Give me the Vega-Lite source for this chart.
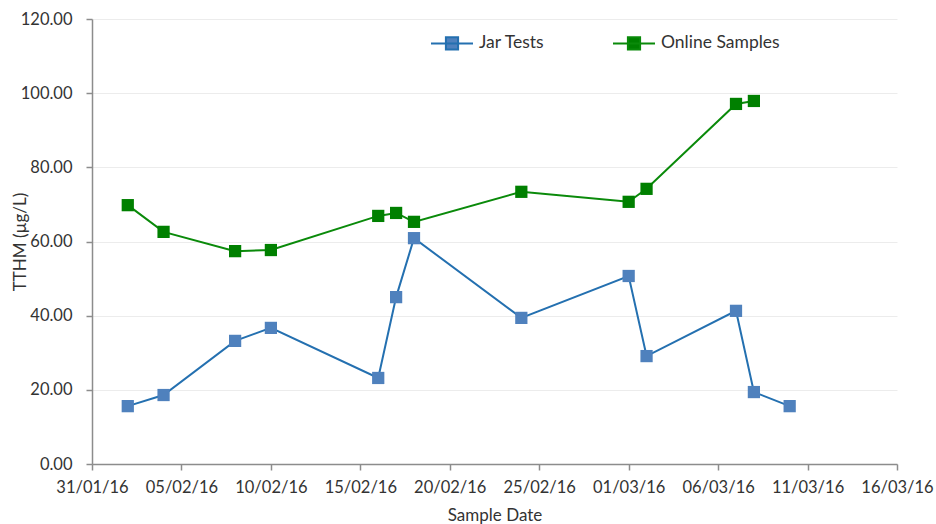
{
  "$schema": "https://vega.github.io/schema/vega-lite/v6.json",
  "width": 805,
  "height": 445,
  "autosize": {"type": "none"},
  "padding": {"left": 92, "top": 19, "right": 39, "bottom": 60},
  "background": "white",
  "config": {
    "font": "Lato",
    "view": {"stroke": null},
    "axis": {
      "labelFont": "Lato", "labelFontSize": 16.5, "labelColor": "#333333",
      "titleFont": "Lato", "titleFontSize": 17, "titleFontWeight": "normal", "titleColor": "#333333",
      "domainColor": "#8c8c8c", "tickColor": "#8c8c8c", "domainWidth": 1.5, "tickWidth": 1.5, "tickSize": 6
    },
    "legend": {"labelFont": "Lato", "labelFontSize": 17.5, "labelColor": "#333333"}
  },
  "data": {
    "values": [
      {"date": "2016-02-02", "series": "Jar Tests", "value": 15.6},
      {"date": "2016-02-04", "series": "Jar Tests", "value": 18.6},
      {"date": "2016-02-08", "series": "Jar Tests", "value": 33.2},
      {"date": "2016-02-10", "series": "Jar Tests", "value": 36.7},
      {"date": "2016-02-16", "series": "Jar Tests", "value": 23.2},
      {"date": "2016-02-17", "series": "Jar Tests", "value": 45.0},
      {"date": "2016-02-18", "series": "Jar Tests", "value": 60.9},
      {"date": "2016-02-24", "series": "Jar Tests", "value": 39.4},
      {"date": "2016-03-01", "series": "Jar Tests", "value": 50.7},
      {"date": "2016-03-02", "series": "Jar Tests", "value": 29.1},
      {"date": "2016-03-07", "series": "Jar Tests", "value": 41.3},
      {"date": "2016-03-08", "series": "Jar Tests", "value": 19.4},
      {"date": "2016-03-10", "series": "Jar Tests", "value": 15.6},
      {"date": "2016-02-02", "series": "Online Samples", "value": 69.8},
      {"date": "2016-02-04", "series": "Online Samples", "value": 62.6},
      {"date": "2016-02-08", "series": "Online Samples", "value": 57.4},
      {"date": "2016-02-10", "series": "Online Samples", "value": 57.7},
      {"date": "2016-02-16", "series": "Online Samples", "value": 66.9},
      {"date": "2016-02-17", "series": "Online Samples", "value": 67.7},
      {"date": "2016-02-18", "series": "Online Samples", "value": 65.3},
      {"date": "2016-02-24", "series": "Online Samples", "value": 73.4},
      {"date": "2016-03-01", "series": "Online Samples", "value": 70.7},
      {"date": "2016-03-02", "series": "Online Samples", "value": 74.2},
      {"date": "2016-03-07", "series": "Online Samples", "value": 97.1},
      {"date": "2016-03-08", "series": "Online Samples", "value": 97.9}
    ]
  },
  "encoding": {
    "x": {
      "field": "date", "type": "temporal", "title": "Sample Date",
      "scale": {"type": "utc", "domain": [{"year": 2016, "month": 1, "date": 31, "utc": true}, {"year": 2016, "month": 3, "date": 16, "utc": true}]},
      "axis": {
        "labelExpr": "utcFormat(datum.value, '%d/%m/%y')", "grid": false,
        "values": [
          {"year": 2016, "month": 1, "date": 31, "utc": true},
          {"year": 2016, "month": 2, "date": 5, "utc": true},
          {"year": 2016, "month": 2, "date": 10, "utc": true},
          {"year": 2016, "month": 2, "date": 15, "utc": true},
          {"year": 2016, "month": 2, "date": 20, "utc": true},
          {"year": 2016, "month": 2, "date": 25, "utc": true},
          {"year": 2016, "month": 3, "date": 1, "utc": true},
          {"year": 2016, "month": 3, "date": 6, "utc": true},
          {"year": 2016, "month": 3, "date": 11, "utc": true},
          {"year": 2016, "month": 3, "date": 16, "utc": true}
        ],
        "labelPadding": 9, "titlePadding": 12, "labelOverlap": false, "labelFlush": false
      }
    },
    "y": {
      "field": "value", "type": "quantitative", "title": "TTHM (µg/L)",
      "scale": {"domain": [0, 120]},
      "axis": {
        "values": [0, 20, 40, 60, 80, 100, 120], "format": ".2f",
        "gridColor": "#ececec", "gridWidth": 1, "labelPadding": 14,
        "titleX": -72, "titleBaseline": "middle", "titleAlign": "center"
      }
    }
  },
  "layer": [
    {
      "mark": {"type": "line", "strokeWidth": 2},
      "encoding": {
        "color": {
          "field": "series", "type": "nominal",
          "scale": {"domain": ["Jar Tests", "Online Samples"], "range": ["#2470b0", "#0a8a0a"]},
          "legend": {
            "title": null, "orient": "none", "direction": "horizontal",
            "legendX": 338, "legendY": 2, "padding": 0,
            "symbolType": "M-1,0H1M-0.29,-0.29H0.29V0.29H-0.29Z",
            "symbolSize": 1764, "symbolStrokeWidth": 2, "symbolFillColor": null,
            "labelOffset": 5, "columnPadding": 64
          }
        }
      }
    },
    {
      "mark": {"type": "point", "shape": "square", "filled": true, "size": 150, "opacity": 1},
      "encoding": {
        "fill": {
          "field": "series", "type": "nominal",
          "scale": {"domain": ["Jar Tests", "Online Samples"], "range": ["#4f81bd", "#008000"]},
          "legend": null
        }
      }
    }
  ]
}
